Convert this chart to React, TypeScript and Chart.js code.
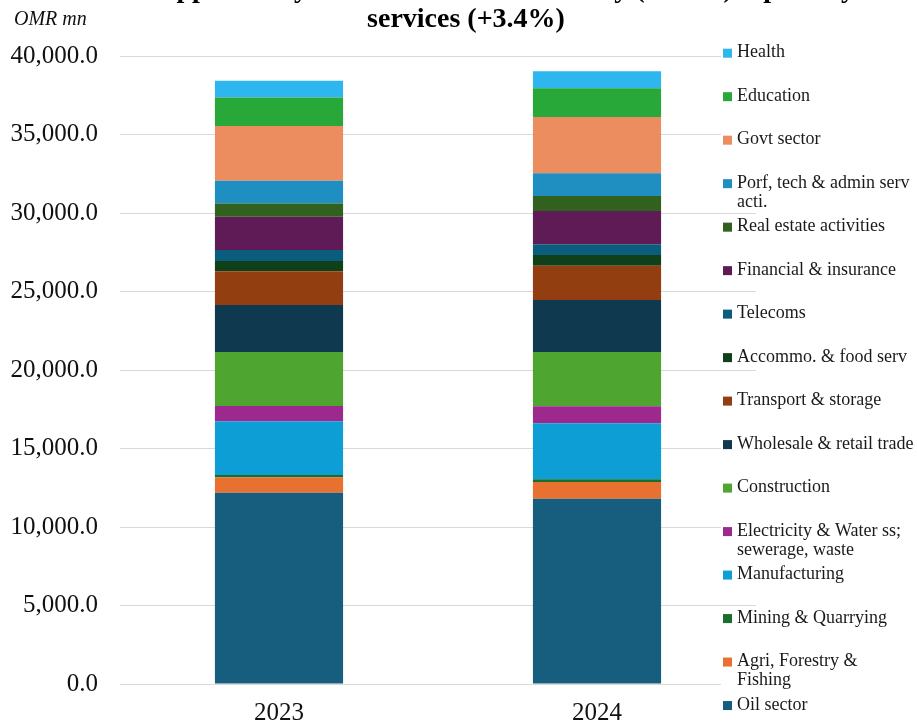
import React, { useEffect, useRef } from "react";
import { Chart, registerables } from "chart.js";

Chart.register(...registerables);

// ---- data ----
const categories = ["2023", "2024"];

// stacked from bottom to top
const seriesLabels = [
  "Oil sector",
  "Agri, Forestry &\nFishing",
  "Mining & Quarrying",
  "Manufacturing",
  "Electricity & Water ss;\nsewerage, waste",
  "Construction",
  "Wholesale & retail trade",
  "Transport & storage",
  "Accommo. & food serv",
  "Telecoms",
  "Financial & insurance",
  "Real estate activities",
  "Porf, tech & admin serv\nacti.",
  "Govt sector",
  "Education",
  "Health",
];

const seriesColors = [
  "#165D7E",
  "#E87031",
  "#176E2D",
  "#0E9ED6",
  "#9E298E",
  "#4EA52F",
  "#0E394E",
  "#933E10",
  "#104019",
  "#0B5D7D",
  "#5F1B55",
  "#30611E",
  "#1F8EC0",
  "#EB8D5E",
  "#29A83A",
  "#2DB7EE",
];

const values2023 = [12184, 981, 146, 3420, 974, 3439, 2993, 2146, 656, 700, 2121, 853, 1439, 3484, 1828, 1057];
const values2024 = [11802, 1064, 172, 3567, 1083, 3458, 3312, 2185, 681, 681, 2121, 955, 1446, 3586, 1828, 1083];

const yTicks = [0, 5000, 10000, 15000, 20000, 25000, 30000, 35000, 40000];

const titleLine1Lead = "GDP ";
const titleLine1 = "GDP supported by the non-oil overall activity (+3.8%) especially";
const titleLine2 = "services (+3.4%)";
const unitLabel = "OMR mn";

const SERIF = "'Liberation Serif', 'Times New Roman', serif";

const overlayPlugin = {
  id: "overlay",
  afterDraw(chart: any) {
    const ctx = chart.ctx as CanvasRenderingContext2D;
    ctx.save();
    // title (first line mostly cut off at top)
    ctx.fillStyle = "#000";
    ctx.textBaseline = "alphabetic";
    ctx.font = `bold 28px ${SERIF}`;
    ctx.textAlign = "left";
    const lead = ctx.measureText(titleLine1Lead).width;
    ctx.fillText(titleLine1, 150 - lead, -3);
    ctx.textAlign = "center";
    ctx.fillText(titleLine2, 466, 27);
    // unit label
    ctx.font = `italic 20px ${SERIF}`;
    ctx.textAlign = "left";
    ctx.fillStyle = "#111";
    ctx.fillText(unitLabel, 14, 25);
    // legend (reversed)
    const ds = chart.data.datasets;
    const n = ds.length;
    ctx.font = `18px ${SERIF}`;
    ctx.textBaseline = "middle";
    for (let i = 0; i < n; i++) {
      const d = ds[n - 1 - i];
      const y = 52.7 + i * 43.49;
      const lines = String(d.label).split("\n");
      ctx.fillStyle = "#fff";
      ctx.fillRect(721, y - 9, 196, 18 + (lines.length - 1) * 19);
      ctx.fillStyle = d.backgroundColor;
      ctx.fillRect(723, y - 4, 9, 9);
      ctx.fillStyle = "#1a1a1a";
      lines.forEach((ln: string, k: number) => ctx.fillText(ln, 737, y + k * 19));
    }
    ctx.restore();
  },
};

export default function App() {
  const ref = useRef<HTMLCanvasElement | null>(null);

  useEffect(() => {
    if (!ref.current) return;
    const datasets = seriesLabels.map((label, i) => ({
      label,
      data: [values2023[i], values2024[i]],
      backgroundColor: seriesColors[i],
      borderWidth: 0,
      categoryPercentage: 1,
      barPercentage: 0.403,
    }));
    const chart = new Chart(ref.current, {
      type: "bar",
      data: { labels: categories, datasets },
      options: {
        animation: false,
        responsive: false,
        devicePixelRatio: 1,
        layout: { padding: { top: 56, right: 161, bottom: 0, left: 0 } },
        plugins: {
          legend: { display: false },
          title: { display: false },
          tooltip: { enabled: false },
        },
        scales: {
          x: {
            stacked: true,
            grid: { display: false },
            border: { display: false },
            ticks: {
              color: "#111",
              font: { family: SERIF, size: 25 },
              padding: 6,
            },
            afterFit: (s: any) => {
              s.height = 37;
            },
          },
          y: {
            stacked: true,
            min: 0,
            max: 40000,
            border: { display: false },
            grid: { color: "#d9d9d9", lineWidth: 1, drawTicks: false },
            afterBuildTicks: (s: any) => {
              s.ticks = yTicks.map((v) => ({ value: v }));
            },
            ticks: {
              color: "#111",
              font: { family: SERIF, size: 25 },
              padding: 22,
              callback: (v: any) =>
                Number(v).toLocaleString("en-US", { minimumFractionDigits: 1, maximumFractionDigits: 1 }),
            },
            afterFit: (s: any) => {
              s.width = 120;
            },
          },
        },
      },
      plugins: [overlayPlugin],
    });
    return () => chart.destroy();
  }, []);

  return (
    <div style={{ position: "fixed", left: 0, top: 0, width: 917, height: 721, background: "#fff" }}>
      <canvas ref={ref} width={917} height={721} style={{ width: 917, height: 721, display: "block" }} />
    </div>
  );
}
